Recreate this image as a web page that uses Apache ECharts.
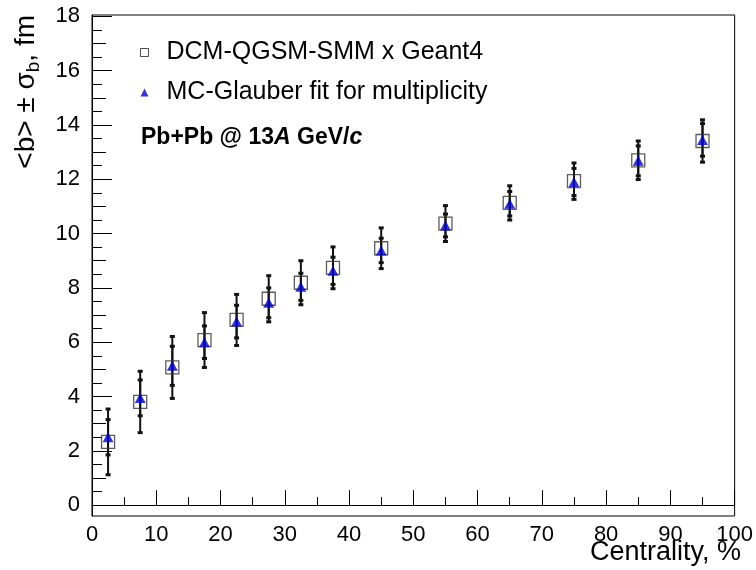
<!DOCTYPE html>
<html>
<head>
<meta charset="utf-8">
<script src="https://cdn.jsdelivr.net/npm/echarts@6/dist/echarts.min.js"></script>
<style>html,body{margin:0;padding:0;background:#fff}#c{width:756px;height:570px}</style>
</head>
<body>
<div id="c"></div>
<script>
// Centrality bin centres (%)
const centrality = [2.5, 7.5, 12.5, 17.5, 22.5, 27.5, 32.5, 37.5, 45, 55, 65, 75, 85, 95];
// DCM-QGSM-SMM x Geant4 : <b> and sigma_b (fm)
const dcmB     = [2.33, 3.80, 5.07, 6.08, 6.82, 7.60, 8.19, 8.74, 9.46, 10.37, 11.13, 11.93, 12.70, 13.41];
const dcmSigma = [1.21, 1.13, 1.14, 1.01, 0.94, 0.85, 0.81, 0.77, 0.75, 0.66, 0.63, 0.67, 0.71, 0.78];
// MC-Glauber fit for multiplicity : <b> and sigma_b (fm)
const glauberB     = [2.50, 3.95, 5.13, 6.00, 6.76, 7.45, 8.04, 8.63, 9.38, 10.30, 11.10, 11.90, 12.68, 13.45];
const glauberSigma = [0.65, 0.66, 0.72, 0.60, 0.60, 0.55, 0.50, 0.50, 0.45, 0.42, 0.45, 0.50, 0.55, 0.60];
// Axis tick values
const yLabelValues  = [0, 2, 4, 6, 8, 10, 12, 14, 16, 18];
const yMediumTicks  = [1, 3, 5, 7, 9, 11, 13, 15, 17];
const yShortTicks   = [0.5, 1.5, 2.5, 3.5, 4.5, 5.5, 6.5, 7.5, 8.5, 9.5, 10.5, 11.5, 12.5, 13.5, 14.5, 15.5, 16.5, 17.5];
const seriesNames = ['DCM-QGSM-SMM x Geant4', 'MC-Glauber fit for multiplicity'];

const FONT = '"Liberation Sans", Arial, Helvetica, sans-serif';

function errData(xs, ys, es) {
  return xs.map((x, i) => [x, ys[i] - es[i], ys[i] + es[i]]);
}
function renderErr(params, api) {
  const x = api.value(0), lo = api.value(1), hi = api.value(2);
  const p1 = api.coord([x, lo]), p2 = api.coord([x, hi]);
  const cw = 2.5;
  const st = { stroke: '#111', lineWidth: 2 };
  const cs = { stroke: '#111', lineWidth: 3 };
  return {
    type: 'group',
    children: [
      { type: 'line', shape: { x1: p1[0], y1: p1[1], x2: p2[0], y2: p2[1] }, style: st },
      { type: 'line', shape: { x1: p1[0] - cw, y1: p1[1], x2: p1[0] + cw, y2: p1[1] }, style: cs },
      { type: 'line', shape: { x1: p2[0] - cw, y1: p2[1], x2: p2[0] + cw, y2: p2[1] }, style: cs }
    ]
  };
}

const yBase = {
  type: 'value', min: -0.4, max: 18.05, position: 'left', offset: 0,
  splitLine: { show: false }
};

const chart = echarts.init(document.getElementById('c'), null, { renderer: 'canvas' });
chart.setOption({
  backgroundColor: '#ffffff',
  animation: false,
  grid: { left: 92, right: 12, top: 15, bottom: 54, show: true, borderColor: '#000', borderWidth: 1, backgroundColor: 'transparent' },
  xAxis: {
    type: 'value', min: 0, max: 100, interval: 10,
    axisLine: { show: true, lineStyle: { color: '#000', width: 1 } },
    axisTick: { show: true, inside: true, length: 15, lineStyle: { color: '#000' } },
    minorTick: { show: true, splitNumber: 2, length: 8, lineStyle: { color: '#000' } },
    axisLabel: { color: '#000', fontSize: 22, fontFamily: FONT, margin: 8 },
    splitLine: { show: false }
  },
  yAxis: [
    Object.assign({}, yBase, {
      axisLine: { show: true, lineStyle: { color: '#000', width: 1 } },
      axisTick: { show: true, inside: true, length: 20, customValues: yLabelValues, lineStyle: { color: '#000' } },
      axisLabel: { color: '#000', fontSize: 22, fontFamily: FONT, margin: 12, customValues: yLabelValues }
    }),
    Object.assign({}, yBase, {
      axisLine: { show: false },
      axisTick: { show: true, inside: true, length: 14, customValues: yMediumTicks, lineStyle: { color: '#000' } },
      axisLabel: { show: false }
    }),
    Object.assign({}, yBase, {
      axisLine: { show: false },
      axisTick: { show: true, inside: true, length: 10, customValues: yShortTicks, lineStyle: { color: '#000' } },
      axisLabel: { show: false }
    })
  ],
  legend: {
    orient: 'vertical', left: 135, top: 35, itemWidth: 8, itemHeight: 8, itemGap: 15,
    selectedMode: false,
    textStyle: { fontSize: 25, fontFamily: FONT, color: '#000', lineHeight: 25, padding: [0, 0, 0, 13] },
    data: [
      { name: seriesNames[0], icon: 'rect', itemStyle: { color: '#fff', borderColor: '#222', borderWidth: 1 } },
      { name: seriesNames[1], icon: 'triangle', itemStyle: { color: '#0000cc', borderWidth: 0 } }
    ]
  },
  series: [
    {
      type: 'custom', name: 'errDCM', renderItem: renderErr, encode: { x: 0, y: [1, 2] },
      data: errData(centrality, dcmB, dcmSigma), z: 1, silent: true
    },
    {
      type: 'custom', name: 'errGlauber', renderItem: renderErr, encode: { x: 0, y: [1, 2] },
      data: errData(centrality, glauberB, glauberSigma), z: 1, silent: true
    },
    {
      type: 'scatter', name: seriesNames[0], symbol: 'rect', symbolSize: 13,
      itemStyle: { color: 'rgba(255,255,255,0)', borderColor: '#333', borderWidth: 1.3 },
      data: centrality.map((x, i) => [x, dcmB[i]]), z: 2
    },
    {
      type: 'scatter', name: seriesNames[1], symbol: 'triangle', symbolSize: [11, 10],
      itemStyle: { color: '#0000cc' },
      data: centrality.map((x, i) => [x, glauberB[i]]), z: 3
    }
  ],
  graphic: [
    {
      type: 'text', x: 26, y: 15, rotation: Math.PI / 2,
      style: {
        text: '{a|<b> ± σ}{s|b}{a|, fm}',
        align: 'right', verticalAlign: 'middle',
        rich: {
          a: { fontSize: 28, fontFamily: FONT, fill: '#000', lineHeight: 34 },
          s: { fontSize: 19, fontFamily: FONT, fill: '#000', lineHeight: 17, verticalAlign: 'bottom' }
        }
      }
    },
    {
      type: 'text', x: 741, y: 553,
      style: { text: 'Centrality, %', align: 'right', verticalAlign: 'middle', fontSize: 27, fontFamily: FONT, fill: '#000' }
    },
    {
      type: 'text', x: 141, y: 138,
      style: {
        text: '{n|Pb+Pb @ 13}{i|A}{n| GeV/}{i|c}',
        align: 'left', verticalAlign: 'middle',
        rich: {
          n: { fontSize: 23, fontWeight: 'bold', fontFamily: FONT, fill: '#000' },
          i: { fontSize: 23, fontWeight: 'bold', fontStyle: 'italic', fontFamily: FONT, fill: '#000' }
        }
      }
    }
  ]
});
</script>
</body>
</html>
